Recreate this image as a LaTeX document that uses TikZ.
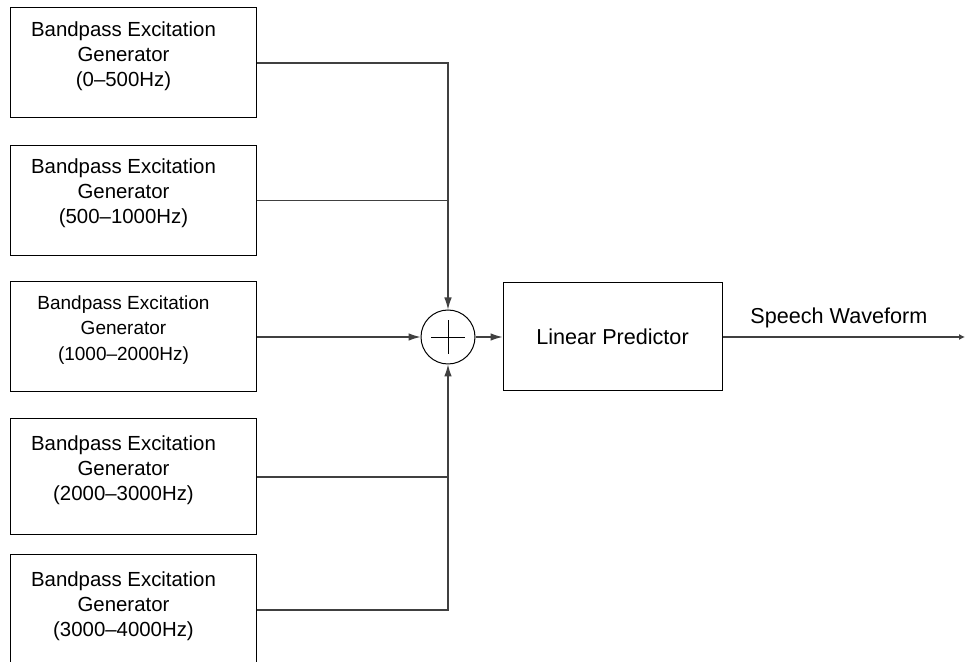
\documentclass[tikz,border=0pt]{standalone}
\usepackage{fontspec}
\setmainfont{Liberation Sans}
\usetikzlibrary{arrows.meta}

\tikzset{
  gen/.style={draw, line width=0.5pt, minimum width=123pt, minimum height=55pt, inner sep=0pt},
  gentext/.style={align=center, font=\fontsize{10.2}{12.5}\selectfont, xshift=-4.75pt, yshift=3.5pt},
  wire/.style={draw=black!75, line width=0.55pt},
}

\begin{document}
\begin{tikzpicture}[x=0.5pt, y=-0.5pt, >={Latex[length=6pt,width=3.8pt]}]
    \path[use as bounding box, clip] (0,0) rectangle (965,662);

    % excitation generators, one per band
    \draw (133,63) node[gen,label={[gentext,name=t1]center:{Bandpass Excitation\\Generator\\(0--500Hz)}}] (g1) {};
    \draw (133,200.5) node[gen,label={[gentext,name=t2]center:{Bandpass Excitation\\Generator\\(500--1000Hz)}}] (g2) {};
    \draw (133,337) node[gen,label={[gentext,name=t3,font=\fontsize{9.5}{12.7}\selectfont]center:{Bandpass Excitation\\Generator\\(1000--2000Hz)}}] (g3) {};
    \draw (133,477) node[gen,minimum height=58pt,label={[gentext,name=t4]center:{Bandpass Excitation\\Generator\\(2000--3000Hz)}}] (g4) {};
    \draw (133,610) node[gen,label={[gentext,name=t5,yshift=-1.5pt]center:{Bandpass Excitation\\Generator\\(3000--4000Hz)}}] (g5) {};

    % summing junction
    \draw (448,337) node[circle,draw,line width=0.5pt,minimum size=27pt,inner sep=0pt] (sum) {};
    \draw ([xshift=-8.5pt]sum.center) -- ([xshift=8.5pt]sum.center);
    \draw ([yshift=-8.5pt]sum.center) -- ([yshift=8.5pt]sum.center);

    \draw (612.5,337) node[draw,line width=0.5pt,minimum width=109.5pt,minimum height=54pt,font=\fontsize{10.8}{13}\selectfont] (lp) {Linear Predictor};
    \coordinate (out) at (965,337);

    \draw[wire,->] (g1.east) -| (sum.north);
    \draw[wire] (g2.east) -- (g2.east -| sum);
    \draw[wire,->] (g3.east) -- (sum.west);
    \draw[wire] (g4.east) -- (g4.east -| sum);
    \draw[wire,->] (g5.east) -| (sum.south);
    \draw[wire,->] (sum.east) -- (lp.west);
    \draw[wire,-{Latex[length=3pt,width=3pt]}] (lp.east) -- (out)
        node[pos=.48,above,yshift=1pt,font=\fontsize{10.8}{13}\selectfont] (wave) {Speech Waveform};
\end{tikzpicture}
\end{document}
